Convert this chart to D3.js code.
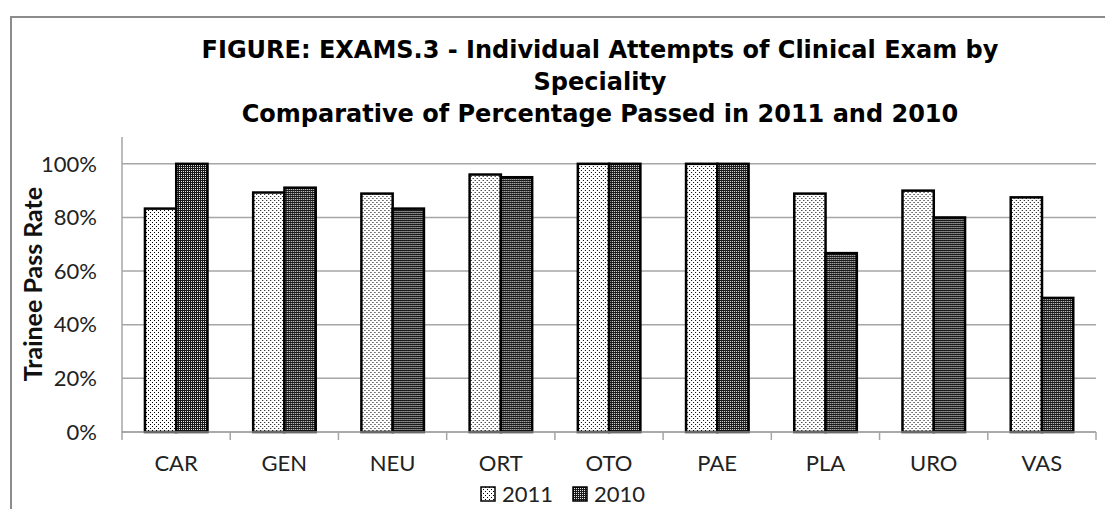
<!DOCTYPE html>
<html>
<head>
<meta charset="utf-8">
<script src="https://cdn.jsdelivr.net/npm/d3@7"></script>
<style>
  body { margin: 0; background: #fff; }
  svg { display: block; }
</style>
</head>
<body>
<svg></svg>
<script>
// chart data
var categories = ['CAR', 'GEN', 'NEU', 'ORT', 'OTO', 'PAE', 'PLA', 'URO', 'VAS'];
var series = ['2011', '2010'];
var pass2011 = [0.833, 0.893, 0.889, 0.96, 1.0, 1.0, 0.889, 0.90, 0.875];
var pass2010 = [1.0, 0.911, 0.833, 0.95, 1.0, 1.0, 0.667, 0.80, 0.50];
var yTicks = [0, 0.2, 0.4, 0.6, 0.8, 1.0];
var titleLines = [
  'FIGURE: EXAMS.3 - Individual Attempts of Clinical Exam by',
  'Speciality',
  'Comparative of Percentage Passed in 2011 and 2010'
];

var width = 1105, height = 509;
var svg = d3.select('svg').attr('width', width).attr('height', height);

// patterns for the two series
var defs = svg.append('defs');
var light = defs.append('pattern').attr('id', 'p2011')
    .attr('patternUnits', 'userSpaceOnUse').attr('width', 4).attr('height', 4);
light.append('rect').attr('width', 4).attr('height', 4).attr('fill', '#fff');
light.append('rect').attr('x', 0).attr('y', 0).attr('width', 1).attr('height', 1).attr('fill', '#000');
light.append('rect').attr('x', 2).attr('y', 2).attr('width', 1).attr('height', 1).attr('fill', '#000');

var dark = defs.append('pattern').attr('id', 'p2010')
    .attr('patternUnits', 'userSpaceOnUse').attr('width', 2).attr('height', 2);
dark.append('rect').attr('width', 2).attr('height', 2).attr('fill', '#1a1a1a');
dark.append('rect').attr('x', 1).attr('y', 1).attr('width', 1).attr('height', 1).attr('fill', '#e6e6e6');

var fills = { '2011': 'url(#p2011)', '2010': 'url(#p2010)' };

// outer frame (only left and top edges visible)
svg.append('path')
    .attr('d', 'M11,' + height + 'V17H' + width)
    .attr('fill', 'none').attr('stroke', '#8c8c8c').attr('stroke-width', 2);

// scales
var x = d3.scaleBand().domain(categories).range([122, 1096]);
var x1 = d3.scaleBand().domain(series)
    .range([x.bandwidth() * 0.212, x.bandwidth() * 0.79]);
var y = d3.scaleLinear().domain([0, 1.1]).range([432, 137]);

// gridlines
svg.append('g').selectAll('line')
    .data(yTicks.filter(d => d > 0))
    .enter().append('line')
    .attr('x1', 122).attr('x2', 1096)
    .attr('y1', d => y(d)).attr('y2', d => y(d))
    .attr('stroke', '#a6a6a6').attr('stroke-width', 1.5);

// y tick labels
svg.append('g').selectAll('text')
    .data(yTicks)
    .enter().append('text')
    .attr('x', 97).attr('y', d => y(d))
    .attr('dy', '0.35em')
    .attr('text-anchor', 'end')
    .attr('font-family', 'Lato, sans-serif')
    .attr('font-size', 22)
    .attr('fill', '#222')
    .text(d3.format('.0%'));

// y axis title
svg.append('text')
    .attr('transform', 'translate(42,284) rotate(-90)')
    .attr('text-anchor', 'middle')
    .attr('font-family', 'Lato, sans-serif')
    .attr('font-weight', 'bold')
    .attr('font-size', 25)
    .attr('fill', '#111')
    .text('Trainee Pass Rate');

// bars
var rows = categories.map((c, i) => ({ cat: c, values: [
  { key: '2011', value: pass2011[i] },
  { key: '2010', value: pass2010[i] }
]}));

svg.append('g').selectAll('g')
    .data(rows)
    .enter().append('g')
    .attr('transform', d => 'translate(' + x(d.cat) + ',0)')
    .selectAll('rect')
    .data(d => d.values)
    .enter().append('rect')
    .attr('x', d => x1(d.key))
    .attr('y', d => y(d.value))
    .attr('width', x1.bandwidth())
    .attr('height', d => y(0) - y(d.value))
    .attr('fill', d => fills[d.key])
    .attr('stroke', '#000')
    .attr('stroke-width', 2.5);

// axis lines
svg.append('line')
    .attr('x1', 122).attr('x2', 122).attr('y1', 137).attr('y2', 440)
    .attr('stroke', '#a6a6a6').attr('stroke-width', 1.5);
svg.append('line')
    .attr('x1', 122).attr('x2', 1096).attr('y1', y(0)).attr('y2', y(0))
    .attr('stroke', '#8c8c8c').attr('stroke-width', 1.5);

// category tick marks at band edges
svg.append('g').selectAll('line')
    .data(categories)
    .enter().append('line')
    .attr('x1', d => x(d) + x.bandwidth()).attr('x2', d => x(d) + x.bandwidth())
    .attr('y1', y(0)).attr('y2', 440)
    .attr('stroke', '#a6a6a6').attr('stroke-width', 1.5);

// category labels
svg.append('g').selectAll('text')
    .data(categories)
    .enter().append('text')
    .attr('x', d => x(d) + x.bandwidth() / 2)
    .attr('y', 471)
    .attr('text-anchor', 'middle')
    .attr('font-family', 'Lato, sans-serif')
    .attr('font-size', 22)
    .attr('fill', '#222')
    .text(d => d);

// title
svg.append('text')
    .attr('text-anchor', 'middle')
    .attr('font-family', '"DejaVu Sans", sans-serif')
    .attr('font-weight', 'bold')
    .attr('font-size', 24)
    .attr('fill', '#000')
    .selectAll('tspan')
    .data(titleLines)
    .enter().append('tspan')
    .attr('x', 600)
    .attr('y', (d, i) => 58 + i * 32)
    .text(d => d);

// legend
var legend = svg.append('g').selectAll('g')
    .data(series)
    .enter().append('g')
    .attr('transform', (d, i) => 'translate(' + (481 + i * 92) + ',487)');
legend.append('rect')
    .attr('width', 14).attr('height', 14)
    .attr('fill', d => fills[d])
    .attr('stroke', '#000').attr('stroke-width', 1.5);
legend.append('text')
    .attr('x', 21).attr('y', 15)
    .attr('font-family', 'Lato, sans-serif')
    .attr('font-size', 22)
    .attr('fill', '#222')
    .text(d => d);
</script>
</body>
</html>
